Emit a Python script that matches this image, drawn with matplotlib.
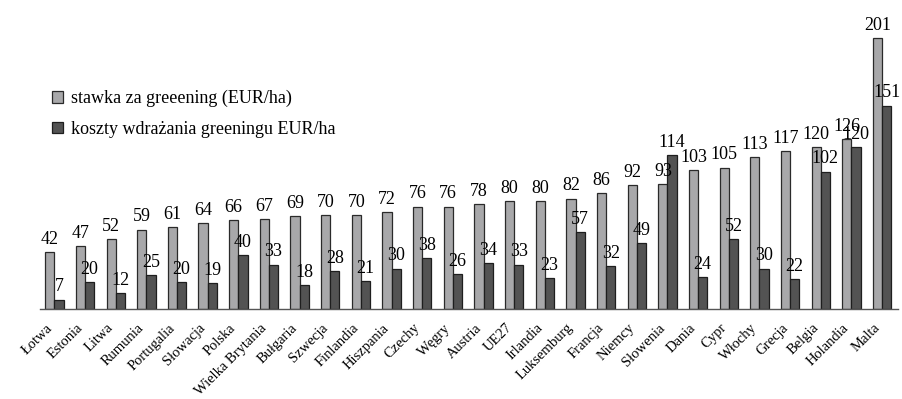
import matplotlib.pyplot as plt
import matplotlib.transforms as mtransforms
import numpy as np

kraje = ['Łotwa', 'Estonia', 'Litwa', 'Rumunia', 'Portugalia', 'Słowacja', 'Polska',
         'Wielka Brytania', 'Bułgaria', 'Szwecja', 'Finlandia', 'Hiszpania', 'Czechy',
         'Węgry', 'Austria', 'UE27', 'Irlandia', 'Luksemburg', 'Francja', 'Niemcy',
         'Słowenia', 'Dania', 'Cypr', 'Włochy', 'Grecja', 'Belgia', 'Holandia', 'Malta']
stawka = [42, 47, 52, 59, 61, 64, 66, 67, 69, 70, 70, 72, 76, 76, 78, 80, 80, 82,
          86, 92, 93, 103, 105, 113, 117, 120, 126, 201]
koszty = [7, 20, 12, 25, 20, 19, 40, 33, 18, 28, 21, 30, 38, 26, 34, 33, 23, 57,
          32, 49, 114, 24, 52, 30, 22, 102, 120, 151]

plt.rcParams['font.family'] = ['Liberation Serif', 'DejaVu Serif']

fig = plt.figure(figsize=(9.02, 3.99), dpi=100)
ax = fig.add_axes([40 / 902, 1 - 309 / 399, 858 / 902, 299 / 399])

x = np.arange(len(kraje))
w = 0.3
b1 = ax.bar(x - w / 2, stawka, w, color='#a8a8aa', edgecolor='#2a2a2a', linewidth=0.9,
            label='stawka za greeening (EUR/ha)')
b2 = ax.bar(x + w / 2, koszty, w, color='#535353', edgecolor='#1e1e1e', linewidth=0.9,
            label='koszty wdrażania greeningu EUR/ha')
ax.bar_label(b1, padding=3, fontsize=13)
ax.bar_label(b2, padding=3, fontsize=13)

ax.set_xlim(-0.47, len(kraje) - 0.48)
ax.set_ylim(0, 222)
ax.set_xticks(x)
ax.set_xticklabels(kraje, rotation=45, ha='right', rotation_mode='anchor', fontsize=10.5)
ax.tick_params(axis='x', length=0, pad=6)
# przesunięcie podpisów osi w lewo i w dół
shift = mtransforms.ScaledTranslation(-9 / 100, -4 / 100, fig.dpi_scale_trans)
for lab in ax.get_xticklabels():
    lab.set_transform(lab.get_transform() + shift)
ax.set_yticks([])
for s in ['top', 'right', 'left']:
    ax.spines[s].set_visible(False)
ax.spines['bottom'].set_color('#555555')
ax.spines['bottom'].set_linewidth(1)

fig.legend(loc='upper left', bbox_to_anchor=(52 / 902, 1 - 90 / 399), frameon=False,
           fontsize=13, handlelength=0.6, handleheight=0.6, handletextpad=0.45,
           labelspacing=0.75, borderpad=0, borderaxespad=0)

plt.savefig('out.png', dpi=100)
